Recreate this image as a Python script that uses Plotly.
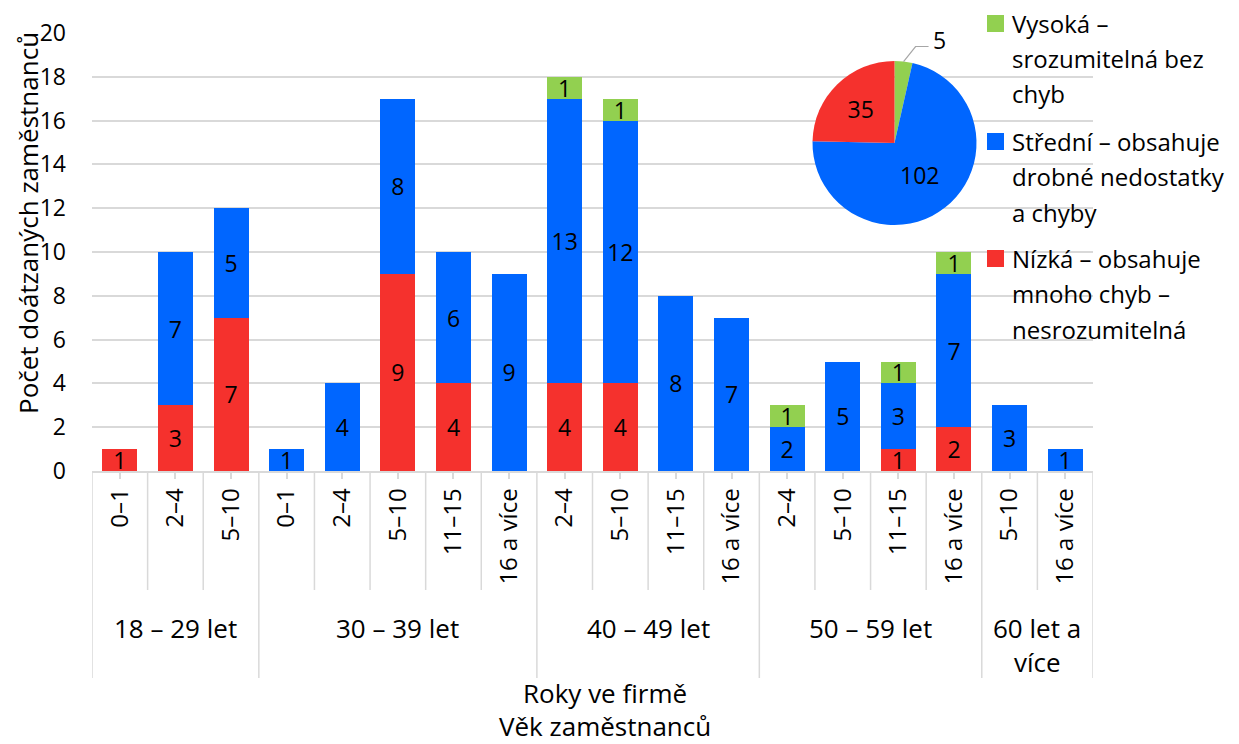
import math
import plotly.graph_objects as go

# --- data -------------------------------------------------------------
age_groups = [["18 – 29 let"], ["30 – 39 let"], ["40 – 49 let"], ["50 – 59 let"], ["60 let a", "více"]]
tenure = [
    ["0–1", "2–4", "5–10"],
    ["0–1", "2–4", "5–10", "11–15", "16 a více"],
    ["2–4", "5–10", "11–15", "16 a více"],
    ["2–4", "5–10", "11–15", "16 a více"],
    ["5–10", "16 a více"],
]

# counts per (age group, years in company), stacked low -> mid -> high
low = [1, 3, 7, 0, 0, 9, 4, 0, 4, 4, 0, 0, 0, 0, 1, 2, 0, 0]
mid = [0, 7, 5, 1, 4, 8, 6, 9, 13, 12, 8, 7, 2, 5, 3, 7, 3, 1]
high = [0, 0, 0, 0, 0, 0, 0, 0, 1, 1, 0, 0, 1, 0, 1, 1, 0, 0]

series_names = ["Vysoká – srozumitelná bez chyb",
                "Střední – obsahuje drobné nedostatky a chyby",
                "Nízká – obsahuje mnoho chyb – nesrozumitelná"]
legend_lines = [["Vysoká –", "srozumitelná bez", "chyb"],
                ["Střední – obsahuje", "drobné nedostatky", "a chyby"],
                ["Nízká – obsahuje", "mnoho chyb –", "nesrozumitelná"]]
pie_values = [5, 102, 35]

y_ticks = list(range(0, 21, 2))
y_title = "Počet doátzaných zaměstnanců"
x_title_lines = ["Roky ve firmě", "Věk zaměstnanců"]

# --- style ------------------------------------------------------------
GREEN, BLUE, RED = "#92D050", "#0066FF", "#F5312D"
GRID = "#D9D9D9"
FONT = "Open Sans"
FS_NUM = 23    # numbers: value labels, y ticks
FS_TXT = 26    # words: titles, group labels
FS_LEG = 24    # legend
FS_TICK = 24   # x tick labels
W, H = 1239, 744
L, R, T, B = 92, 146, 33, 273
PW, PH = W - L - R, H - T - B


def pxx(x):
    return (x - L) / PW


def pxy(y):
    return (H - B - y) / PH


def label(text, x, y, xref="paper", size=FS_TXT, **kw):
    d = dict(text=text, x=x, y=y, xref=xref, yref="paper", showarrow=False,
             xanchor="center", yanchor="middle",
             font=dict(family=FONT, size=size, color="black"))
    d.update(kw)
    return d


ticktext = [t for grp in tenure for t in grp]
xs = list(range(len(ticktext)))


def nz(v):
    return [None if a == 0 else a for a in v]


fig = go.Figure()
for vals, color, name in [(low, RED, series_names[2]), (mid, BLUE, series_names[1]), (high, GREEN, series_names[0])]:
    fig.add_trace(go.Bar(
        x=xs, y=nz(vals), name=name, width=0.63,
        marker=dict(color=color, line=dict(width=0)),
        text=nz(vals), texttemplate="%{text}", textposition="inside",
        insidetextanchor="middle", textangle=0,
        textfont=dict(family=FONT, size=FS_NUM, color="black"),
        showlegend=False, hoverinfo="skip",
    ))

# pie inset
pie_x0, pie_x1, pie_y0, pie_y1 = 812.5, 976.5, 61, 225
fig.add_trace(go.Pie(
    values=pie_values, labels=series_names, sort=False, direction="clockwise", rotation=0,
    marker=dict(colors=[GREEN, BLUE, RED], line=dict(width=0)),
    text=["", str(pie_values[1]), str(pie_values[2])], textinfo="text",
    textposition="inside", insidetextorientation="horizontal",
    textfont=dict(family=FONT, size=FS_NUM, color="black"),
    domain=dict(x=[pxx(pie_x0), pxx(pie_x1)], y=[pxy(pie_y1), pxy(pie_y0)]),
    showlegend=False, hoverinfo="skip",
))

shapes = []
annotations = []

# leader line + label for the small pie slice
cx, cy, rad = (pie_x0 + pie_x1) / 2, (pie_y0 + pie_y1) / 2, (pie_x1 - pie_x0) / 2
ang = math.radians(pie_values[0] / sum(pie_values) * 360 / 2)
sx, sy = cx + rad * math.sin(ang), cy - rad * math.cos(ang)
kx, ky = sx + 12, sy - 15
ex = kx + 13
shapes.append(dict(type="path", xref="paper", yref="paper",
                   path=f"M {pxx(sx)},{pxy(sy)} L {pxx(kx)},{pxy(ky)} L {pxx(ex)},{pxy(ky)}",
                   line=dict(color="#A6A6A6", width=1.2)))
annotations.append(label(str(pie_values[0]), pxx(ex + 11), pxy(ky - 7), size=FS_NUM))

# category dividers below the axis
bounds = [0]
for grp in tenure:
    bounds.append(bounds[-1] + len(grp))
for i in range(len(ticktext) + 1):
    bottom = 678 if i in bounds else 590
    shapes.append(dict(type="line", xref="x", yref="paper", x0=i - 0.5, x1=i - 0.5,
                       y0=0, y1=pxy(bottom), line=dict(color=GRID, width=1.5)))

# age group labels
for g, lines in enumerate(age_groups):
    xc = (bounds[g] + bounds[g + 1] - 1) / 2
    for k, line in enumerate(lines):
        annotations.append(label(line, xc, pxy(628 + 34 * k), xref="x"))

# axis titles
for k, line in enumerate(x_title_lines):
    annotations.append(label(line, pxx(605), pxy(693 + 33 * k)))
annotations.append(label(y_title, pxx(28), pxy(223), textangle=-90))

# legend built from squares and text lines
legend_colors = [GREEN, BLUE, RED]
legend_base = [32, 150, 267]
for c, base, lines in zip(legend_colors, legend_base, legend_lines):
    shapes.append(dict(type="rect", xref="paper", yref="paper",
                       x0=pxx(987), x1=pxx(1004), y0=pxy(base), y1=pxy(base - 17),
                       fillcolor=c, line=dict(width=0)))
    for k, line in enumerate(lines):
        annotations.append(label(line, pxx(1010), pxy(base + 35.5 * k - 9), size=FS_LEG, xanchor="left"))

fig.update_layout(
    width=W, height=H, margin=dict(l=L, r=R, t=T, b=B, autoexpand=False),
    paper_bgcolor="white", plot_bgcolor="white",
    barmode="stack", showlegend=False,
    font=dict(family=FONT, size=FS_NUM, color="black"),
    uniformtext=dict(minsize=FS_NUM, mode="show"),
    xaxis=dict(range=[-0.5, len(ticktext) - 0.5], tickvals=xs, ticktext=ticktext, tickangle=-90,
               ticks="outside", ticklen=6, tickcolor=GRID, tickwidth=1.5,
               showline=True, linecolor=GRID, linewidth=1.5, showgrid=False, zeroline=False,
               ticklabelstandoff=0, tickfont=dict(family=FONT, size=FS_TICK, color="black")),
    yaxis=dict(range=[0, 20], tickvals=y_ticks, showgrid=True, gridcolor=GRID, gridwidth=1.5,
               zeroline=False, showline=False, ticks="", ticklabelstandoff=25,
               tickfont=dict(family=FONT, size=FS_NUM, color="black")),
    shapes=shapes, annotations=annotations,
)

fig.write_html("out.html")
